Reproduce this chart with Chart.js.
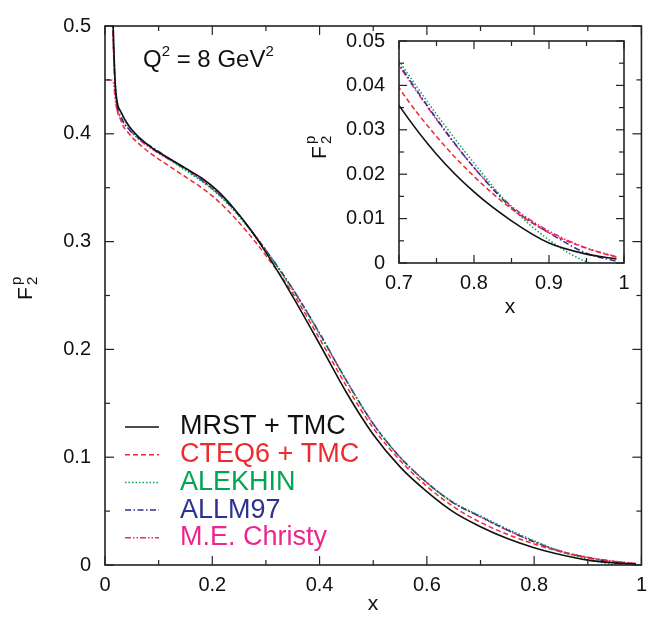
<!DOCTYPE html>
<html>
<head>
<meta charset="utf-8">
<script src="https://cdn.jsdelivr.net/npm/chart.js@4.4.0/dist/chart.umd.min.js"></script>
<style>
  body { margin: 0; background: #fff; }
  #wrap { position: relative; width: 655px; height: 619px; }
  #insetChart { position: absolute; left: 290px; top: 15px; }
</style>
</head>
<body>
<div id="wrap">
  <canvas id="mainChart" width="655" height="619"></canvas>
  <canvas id="insetChart" width="350" height="310"></canvas>
</div>
<script>
// values (Q^2 = 8 GeV^2)
const xValues = [0.003, 0.01, 0.015, 0.02, 0.03, 0.045, 0.065, 0.09, 0.12, 0.15, 0.18, 0.21, 0.24, 0.27, 0.3,
                 0.35, 0.4, 0.45, 0.5, 0.55, 0.6, 0.65, 0.7, 0.75, 0.8, 0.85, 0.9, 0.95, 0.99];

const mrst     = [null, 0.62, 0.505, 0.440, 0.420, 0.407, 0.396, 0.386, 0.377, 0.368, 0.359, 0.347, 0.331, 0.312, 0.290,
                  0.249, 0.205, 0.160, 0.121, 0.091, 0.068, 0.049, 0.0355, 0.0245, 0.0160, 0.0095, 0.0045, 0.0020, 0.0009];
const cteq6    = [null, 0.60, 0.490, 0.435, 0.412, 0.400, 0.390, 0.380, 0.370, 0.360, 0.350, 0.338, 0.323, 0.306, 0.287,
                  0.252, 0.210, 0.166, 0.127, 0.097, 0.073, 0.054, 0.0395, 0.0285, 0.0195, 0.0122, 0.0068, 0.0033, 0.0013];
const alekhin  = [null, 0.62, 0.500, 0.442, 0.420, 0.406, 0.395, 0.386, 0.376, 0.366, 0.356, 0.344, 0.329, 0.311, 0.291,
                  0.255, 0.214, 0.171, 0.131, 0.100, 0.076, 0.058, 0.0455, 0.0335, 0.0225, 0.0125, 0.0052, 0.0003, -0.001];
const allm97   = [null, 0.60, 0.490, 0.437, 0.416, 0.404, 0.395, 0.387, 0.377, 0.368, 0.357, 0.345, 0.330, 0.312, 0.292,
                  0.256, 0.215, 0.171, 0.131, 0.100, 0.0765, 0.0575, 0.0448, 0.0325, 0.0215, 0.0125, 0.0068, 0.0022, 0.0004];
const christy  = [0.450, 0.450, 0.449, 0.428, 0.414, 0.404, 0.394, 0.385, 0.376, 0.367, 0.357, 0.345, 0.330, 0.312, 0.292,
                  0.256, 0.215, 0.171, 0.131, 0.100, 0.0765, 0.0575, 0.0445, 0.0323, 0.0215, 0.0128, 0.0072, 0.0034, 0.0014];

const seriesNames  = ['MRST + TMC', 'CTEQ6 + TMC', 'ALEKHIN', 'ALLM97', 'M.E. Christy'];
const seriesValues = [mrst, cteq6, alekhin, allm97, christy];
const seriesColors = ['#111111', '#ee2a2f', '#00a651', '#2e3192', '#ec268f'];
const seriesDashes = [[], [5, 3], [1.5, 2], [6, 2.5, 1.5, 2.5], [6, 2, 1.5, 2, 1.5, 2]];

const mainXLabels  = ['0', '0.2', '0.4', '0.6', '0.8', '1'];
const mainYLabels  = ['0', '0.1', '0.2', '0.3', '0.4', '0.5'];
const insetXLabels = ['0.7', '0.8', '0.9', '1'];
const insetYLabels = ['0', '0.01', '0.02', '0.03', '0.04', '0.05'];

const FONT = '"Liberation Sans", Arial, Helvetica, sans-serif';
const INSET_LEFT = 290, INSET_TOP = 15;

function makeDatasets() {
    return seriesNames.map((name, i) => ({
        label: name,
        data: xValues.map((x, j) => ({ x: x, y: seriesValues[i][j] })),
        borderColor: seriesColors[i],
        borderDash: seriesDashes[i],
        borderWidth: i === 0 ? 1.6 : 1.5,
        pointRadius: 0,
        cubicInterpolationMode: 'monotone',
        fill: false
    }));
}

// frame + inward ticks on all four sides, extra drawing via opts.draw
const frameTicks = {
    id: 'frameTicks',
    afterDraw(chart, args, opts) {
        const { ctx, chartArea: a, scales } = chart;
        const line = (x1, y1, x2, y2) => { ctx.beginPath(); ctx.moveTo(x1, y1); ctx.lineTo(x2, y2); ctx.stroke(); };
        ctx.save();
        ctx.strokeStyle = '#222';
        ctx.lineWidth = 1.6;
        ctx.strokeRect(a.left, a.top, a.right - a.left, a.bottom - a.top);
        ctx.lineWidth = 1.2;
        scales.x.ticks.forEach((t, i) => {
            const px = scales.x.getPixelForValue(t.value);
            const len = i % 2 === 0 ? opts.major : opts.minor;
            line(px, a.bottom, px, a.bottom - len);
            line(px, a.top, px, a.top + len);
        });
        scales.y.ticks.forEach((t, i) => {
            const py = scales.y.getPixelForValue(t.value);
            const len = i % 2 === 0 ? opts.major : opts.minor;
            line(a.left, py, a.left + len, py);
            line(a.right, py, a.right - len, py);
        });
        ctx.restore();
        if (opts.draw) {
            ctx.save();
            opts.draw(ctx, chart);
            ctx.restore();
        }
    }
};

function drawF2p(ctx, cx, cy, size) {
    ctx.save();
    ctx.translate(cx, cy);
    ctx.rotate(-Math.PI / 2);
    ctx.fillStyle = '#111';
    ctx.textBaseline = 'alphabetic';
    ctx.font = size + 'px ' + FONT;
    const wF = ctx.measureText('F').width;
    const small = Math.round(size * 0.72);
    ctx.font = small + 'px ' + FONT;
    const w2 = ctx.measureText('2').width;
    const x0 = -(wF + w2) / 2;
    const base = size * 0.36;
    ctx.font = size + 'px ' + FONT;
    ctx.fillText('F', x0, base);
    ctx.font = small + 'px ' + FONT;
    ctx.fillText('2', x0 + wF, base + size * 0.28);
    ctx.fillText('p', x0 + wF, base - size * 0.5);
    ctx.restore();
}

function drawMainExtras(ctx, chart) {
    ctx.fillStyle = '#111';
    // x axis title
    ctx.font = '21px ' + FONT;
    ctx.textAlign = 'center';
    ctx.textBaseline = 'alphabetic';
    ctx.fillText('x', 373, 610);
    drawF2p(ctx, 24, 283, 21);

    // Q^2 label
    ctx.textAlign = 'left';
    let x = 143;
    const base = 67;
    const parts = [['Q', 24, 0], ['2', 15, -11], [' = 8 GeV', 24, 0], ['2', 15, -11]];
    parts.forEach(p => {
        ctx.font = p[1] + 'px ' + FONT;
        ctx.fillText(p[0], x, base + p[2]);
        x += ctx.measureText(p[0]).width;
    });

    // legend
    seriesNames.forEach((name, i) => {
        const y = 427 + i * 27.7;
        ctx.strokeStyle = seriesColors[i];
        ctx.lineWidth = 1.5;
        ctx.setLineDash(seriesDashes[i]);
        ctx.beginPath();
        ctx.moveTo(125, y);
        ctx.lineTo(159, y);
        ctx.stroke();
        ctx.setLineDash([]);
        ctx.fillStyle = seriesColors[i];
        ctx.font = '27px ' + FONT;
        ctx.textBaseline = 'middle';
        ctx.fillText(name, 180, y);
    });
}

function drawInsetExtras(ctx, chart) {
    ctx.fillStyle = '#111';
    ctx.font = '21px ' + FONT;
    ctx.textAlign = 'center';
    ctx.textBaseline = 'alphabetic';
    ctx.fillText('x', 510 - INSET_LEFT, 313 - INSET_TOP);
    drawF2p(ctx, 318 - INSET_LEFT, 142 - INSET_TOP, 21);
}

function baseOptions(cfg) {
    return {
        responsive: false,
        animation: false,
        layout: { padding: cfg.padding },
        plugins: {
            legend: { display: false },
            tooltip: { enabled: false },
            frameTicks: { major: cfg.major, minor: cfg.minor, draw: cfg.draw }
        },
        scales: {
            x: {
                type: 'linear',
                min: cfg.xMin, max: cfg.xMax,
                grid: { display: false, drawTicks: false },
                border: { display: false },
                afterFit: s => { s.height = cfg.xHeight; },
                ticks: {
                    stepSize: cfg.xStep,
                    autoSkip: false,
                    maxRotation: 0,
                    padding: 8,
                    color: '#111',
                    font: { family: FONT, size: 20 },
                    callback: (v, i) => (i % 2 === 0 ? cfg.xLabels[i / 2] : '')
                }
            },
            y: {
                min: cfg.yMin, max: cfg.yMax,
                grid: { display: false, drawTicks: false },
                border: { display: false },
                afterFit: s => { s.width = cfg.yWidth; },
                ticks: {
                    stepSize: cfg.yStep,
                    autoSkip: false,
                    padding: 14,
                    color: '#111',
                    font: { family: FONT, size: 20 },
                    callback: (v, i) => (i % 2 === 0 ? cfg.yLabels[i / 2] : '')
                }
            }
        }
    };
}

new Chart(document.getElementById('mainChart'), {
    type: 'line',
    data: { datasets: makeDatasets() },
    options: baseOptions({
        padding: { left: 0, top: 12, right: 13, bottom: 0 },
        xMin: 0, xMax: 1, xStep: 0.1, xLabels: mainXLabels, xHeight: 54,
        yMin: 0, yMax: 0.5, yStep: 0.05, yLabels: mainYLabels, yWidth: 105,
        major: 9, minor: 5, draw: drawMainExtras
    }),
    plugins: [frameTicks]
});

// inset plot area: x 399..624, y 29..263 in page pixels
new Chart(document.getElementById('insetChart'), {
    type: 'line',
    data: { datasets: makeDatasets() },
    options: baseOptions({
        padding: { left: 0, top: 29 - INSET_TOP, right: 350 - (624 - INSET_LEFT), bottom: 0 },
        xMin: 0.7, xMax: 1, xStep: 0.05, xLabels: insetXLabels, xHeight: 310 - (263 - INSET_TOP),
        yMin: 0, yMax: 0.05, yStep: 0.005, yLabels: insetYLabels, yWidth: 399 - INSET_LEFT,
        major: 8, minor: 5, draw: drawInsetExtras
    }),
    plugins: [frameTicks]
});
</script>
</body>
</html>
